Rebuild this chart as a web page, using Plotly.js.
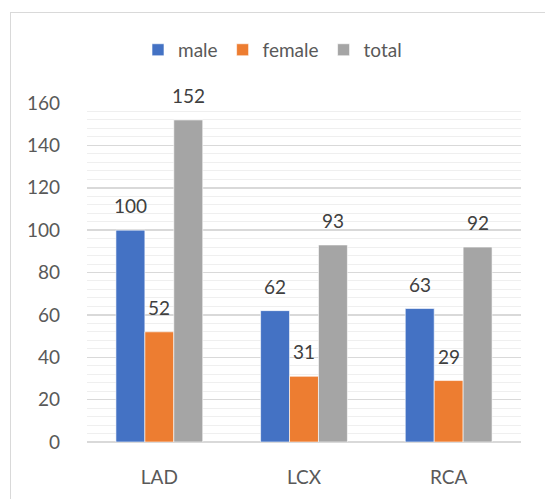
<!DOCTYPE html>
<html>
<head>
<meta charset="utf-8">
<script src="https://cdn.plot.ly/plotly-3.0.1.min.js"></script>
<style>
  html, body { margin: 0; padding: 0; background: #ffffff; }
  #wrap { position: relative; width: 545px; height: 499px; overflow: hidden; }
  #frame { position: absolute; left: 10px; top: 12px; width: 600px; height: 600px;
           border-left: 1.5px solid #d9d9d9; border-top: 1.5px solid #d9d9d9; pointer-events: none; }
  #chart { position: absolute; left: 0; top: 0; width: 545px; height: 499px; }
</style>
</head>
<body>
<div id="wrap">
  <div id="chart"></div>
  <div id="frame"></div>
</div>
<script>
const categories = ["LAD", "LCX", "RCA"];
const seriesNames = ["male", "female", "total"];
const male = [100, 62, 63];
const female = [52, 31, 29];
const total = [152, 93, 92];
const yTicks = [0, 20, 40, 60, 80, 100, 120, 140, 160];

const values = [male, female, total];
const colors = ["#4472c4", "#ed7d31", "#a5a5a5"];
const FONT = "Lato, 'Open Sans', sans-serif";

const traces = values.map((v, i) => ({
  type: "bar",
  name: seriesNames[i],
  x: categories,
  y: v,
  marker: { color: colors[i], line: { color: "#ffffff", width: 0.6 } },
  hoverinfo: "skip"
}));

const offsets = [-29, 0, 29];
const annotations = [];
values.forEach((v, i) => {
  v.forEach((val, j) => {
    annotations.push({
      x: categories[j], y: val, xref: "x", yref: "y",
      text: String(val), showarrow: false,
      xshift: offsets[i], yanchor: "bottom", yshift: 11,
      font: { family: FONT, size: 19, color: "#404040" }
    });
  });
});

const layout = {
  width: 545, height: 499,
  margin: { l: 87, r: 24, t: 103, b: 57 },
  paper_bgcolor: "#ffffff", plot_bgcolor: "#ffffff",
  font: { family: FONT, size: 19, color: "#595959" },
  barmode: "group",
  bargap: 0.4,
  bargroupgap: 0,
  showlegend: true,
  legend: {
    orientation: "h", xref: "container", yref: "container",
    x: 0.5, xanchor: "center", y: 0.9, yanchor: "middle",
    font: { family: FONT, size: 19, color: "#595959" },
    itemclick: false
  },
  xaxis: {
    type: "category",
    showgrid: false, showline: false, zeroline: false,
    ticks: "", ticklabelstandoff: 22,
    tickfont: { family: FONT, size: 19, color: "#595959" }
  },
  yaxis: {
    range: [0, 160], tickvals: yTicks,
    showgrid: true, gridcolor: "#d9d9d9", gridwidth: 1.5,
    zeroline: true, zerolinecolor: "#d9d9d9", zerolinewidth: 1.5,
    showline: false, ticks: "", ticklabelstandoff: 26,
    minor: { dtick: 4, showgrid: true, gridcolor: "#efefef", gridwidth: 1 },
    tickfont: { family: FONT, size: 19, color: "#595959" }
  },
  annotations: annotations
};

Plotly.newPlot("chart", traces, layout, { staticPlot: true, displayModeBar: false });
</script>
</body>
</html>
